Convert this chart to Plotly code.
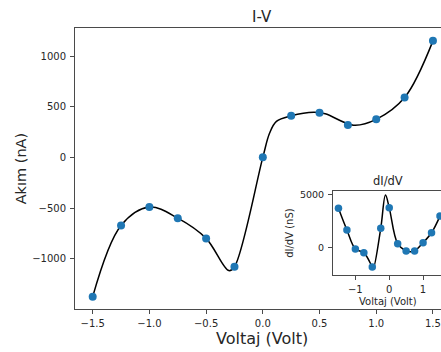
import plotly.graph_objects as go

# Main I-V data (sample points)
volt = [-1.5, -1.25, -1.0, -0.75, -0.5, -0.25, 0.0, 0.25, 0.5, 0.75, 1.0, 1.25, 1.5]
current = [-1375, -672, -490, -600, -800, -1080, 0, 410, 440, 320, 375, 590, 1150]

# Fitted I-V curve
fit_v = [-1.5, -1.25, -1.0, -0.75, -0.5, -0.3, -0.25, 0.0, 0.06, 0.12, 0.25, 0.45, 0.55, 0.8, 1.0, 1.25, 1.5]
fit_i = [-1375, -672, -490, -600, -800, -1118, -1080, 0, 240, 355, 410, 445, 430, 318, 375, 590, 1150]

# Inset dI/dV data (sample points)
didv = [3740, 1680, -120, -470, -1820, 1840, 3800, 380, -310, -310, 470, 1420, 3000]

# Fitted dI/dV curve
fit_dv = [-1.5, -1.25, -1.0, -0.75, -0.5, -0.47, -0.25, -0.11, 0.0, 0.25, 0.5, 0.62, 0.75, 1.0, 1.25, 1.5]
fit_didv = [3740, 1680, -120, -470, -1820, -1950, 1840, 5000, 3800, 380, -310, -380, -310, 470, 1420, 3000]

main_xticks = [-1.5, -1.0, -0.5, 0.0, 0.5, 1.0, 1.5]
main_yticks = [-1000, -500, 0, 500, 1000]
inset_xticks = [-1, 0, 1]
inset_yticks = [0, 5000]

BLUE = "#1f77b4"
TXT = "#262626"
AX = "#4a4a4a"
FONT = "DejaVu Sans"

fig = go.Figure()
fig.add_trace(go.Scatter(x=fit_v, y=fit_i, mode="lines", line=dict(color="black", width=1.5, shape="spline", smoothing=1.0),
                         xaxis="x", yaxis="y", hoverinfo="skip"))
fig.add_trace(go.Scatter(x=volt, y=current, mode="markers", marker=dict(color=BLUE, size=8),
                         xaxis="x", yaxis="y"))
fig.add_trace(go.Scatter(x=fit_dv, y=fit_didv, mode="lines", line=dict(color="black", width=1.5, shape="spline", smoothing=1.0),
                         xaxis="x2", yaxis="y2", hoverinfo="skip"))
fig.add_trace(go.Scatter(x=volt, y=didv, mode="markers", marker=dict(color=BLUE, size=7.5),
                         xaxis="x2", yaxis="y2"))

axcommon = dict(showgrid=False, zeroline=False, showline=True, linecolor=AX, linewidth=1,
                ticks="outside", ticklen=4, tickwidth=1, tickcolor=AX)

fig.update_layout(
    width=441, height=352,
    margin=dict(l=75, r=0, t=28, b=43),
    plot_bgcolor="white", paper_bgcolor="white",
    showlegend=False,
    font=dict(family=FONT, color=TXT),
    xaxis=dict(domain=[0, 1], range=[-1.656, 1.571], tickvals=main_xticks, tickformat=".1f",
               tickfont=dict(size=10, color=TXT), mirror=True, anchor="y", **axcommon),
    yaxis=dict(domain=[0, 1], range=[-1497, 1277], tickvals=main_yticks,
               tickfont=dict(size=10, color=TXT), anchor="x", **axcommon),
    xaxis2=dict(domain=[0.705, 1.0], range=[-1.66, 1.53], tickvals=inset_xticks,
                tickfont=dict(size=10, color=TXT), mirror=True, anchor="y2", **axcommon),
    yaxis2=dict(domain=[0.121, 0.42], range=[-2590, 5380], tickvals=inset_yticks,
                tickfont=dict(size=9.5, color=TXT), anchor="x2", **axcommon),
)
fig.update_xaxes(ticklabelstandoff=1)
fig.update_yaxes(ticklabelstandoff=2)

ann = [
    dict(text="I-V", x=0.511, y=1.039, size=15),
    dict(text="Voltaj (Volt)", x=0.511, y=-0.106, size=16),
    dict(text="dI/dV", x=0.855, y=0.455, size=11.5),
    dict(text="Voltaj (Volt)", x=0.855, y=0.027, size=10),
]
for a in ann:
    fig.add_annotation(text=a["text"], x=a["x"], y=a["y"], xref="paper", yref="paper",
                       showarrow=False, xanchor="center", yanchor="middle",
                       font=dict(size=a["size"], color=TXT, family=FONT))
fig.add_annotation(text="Akım (nA)", x=-0.148, y=0.50, xref="paper", yref="paper", textangle=-90,
                   showarrow=False, xanchor="center", yanchor="middle", font=dict(size=14.5, color=TXT, family=FONT))
fig.add_annotation(text="dI/dV (nS)", x=0.584, y=0.27, xref="paper", yref="paper", textangle=-90,
                   showarrow=False, xanchor="center", yanchor="middle", font=dict(size=10, color=TXT, family=FONT))

fig.write_html("out.html")
